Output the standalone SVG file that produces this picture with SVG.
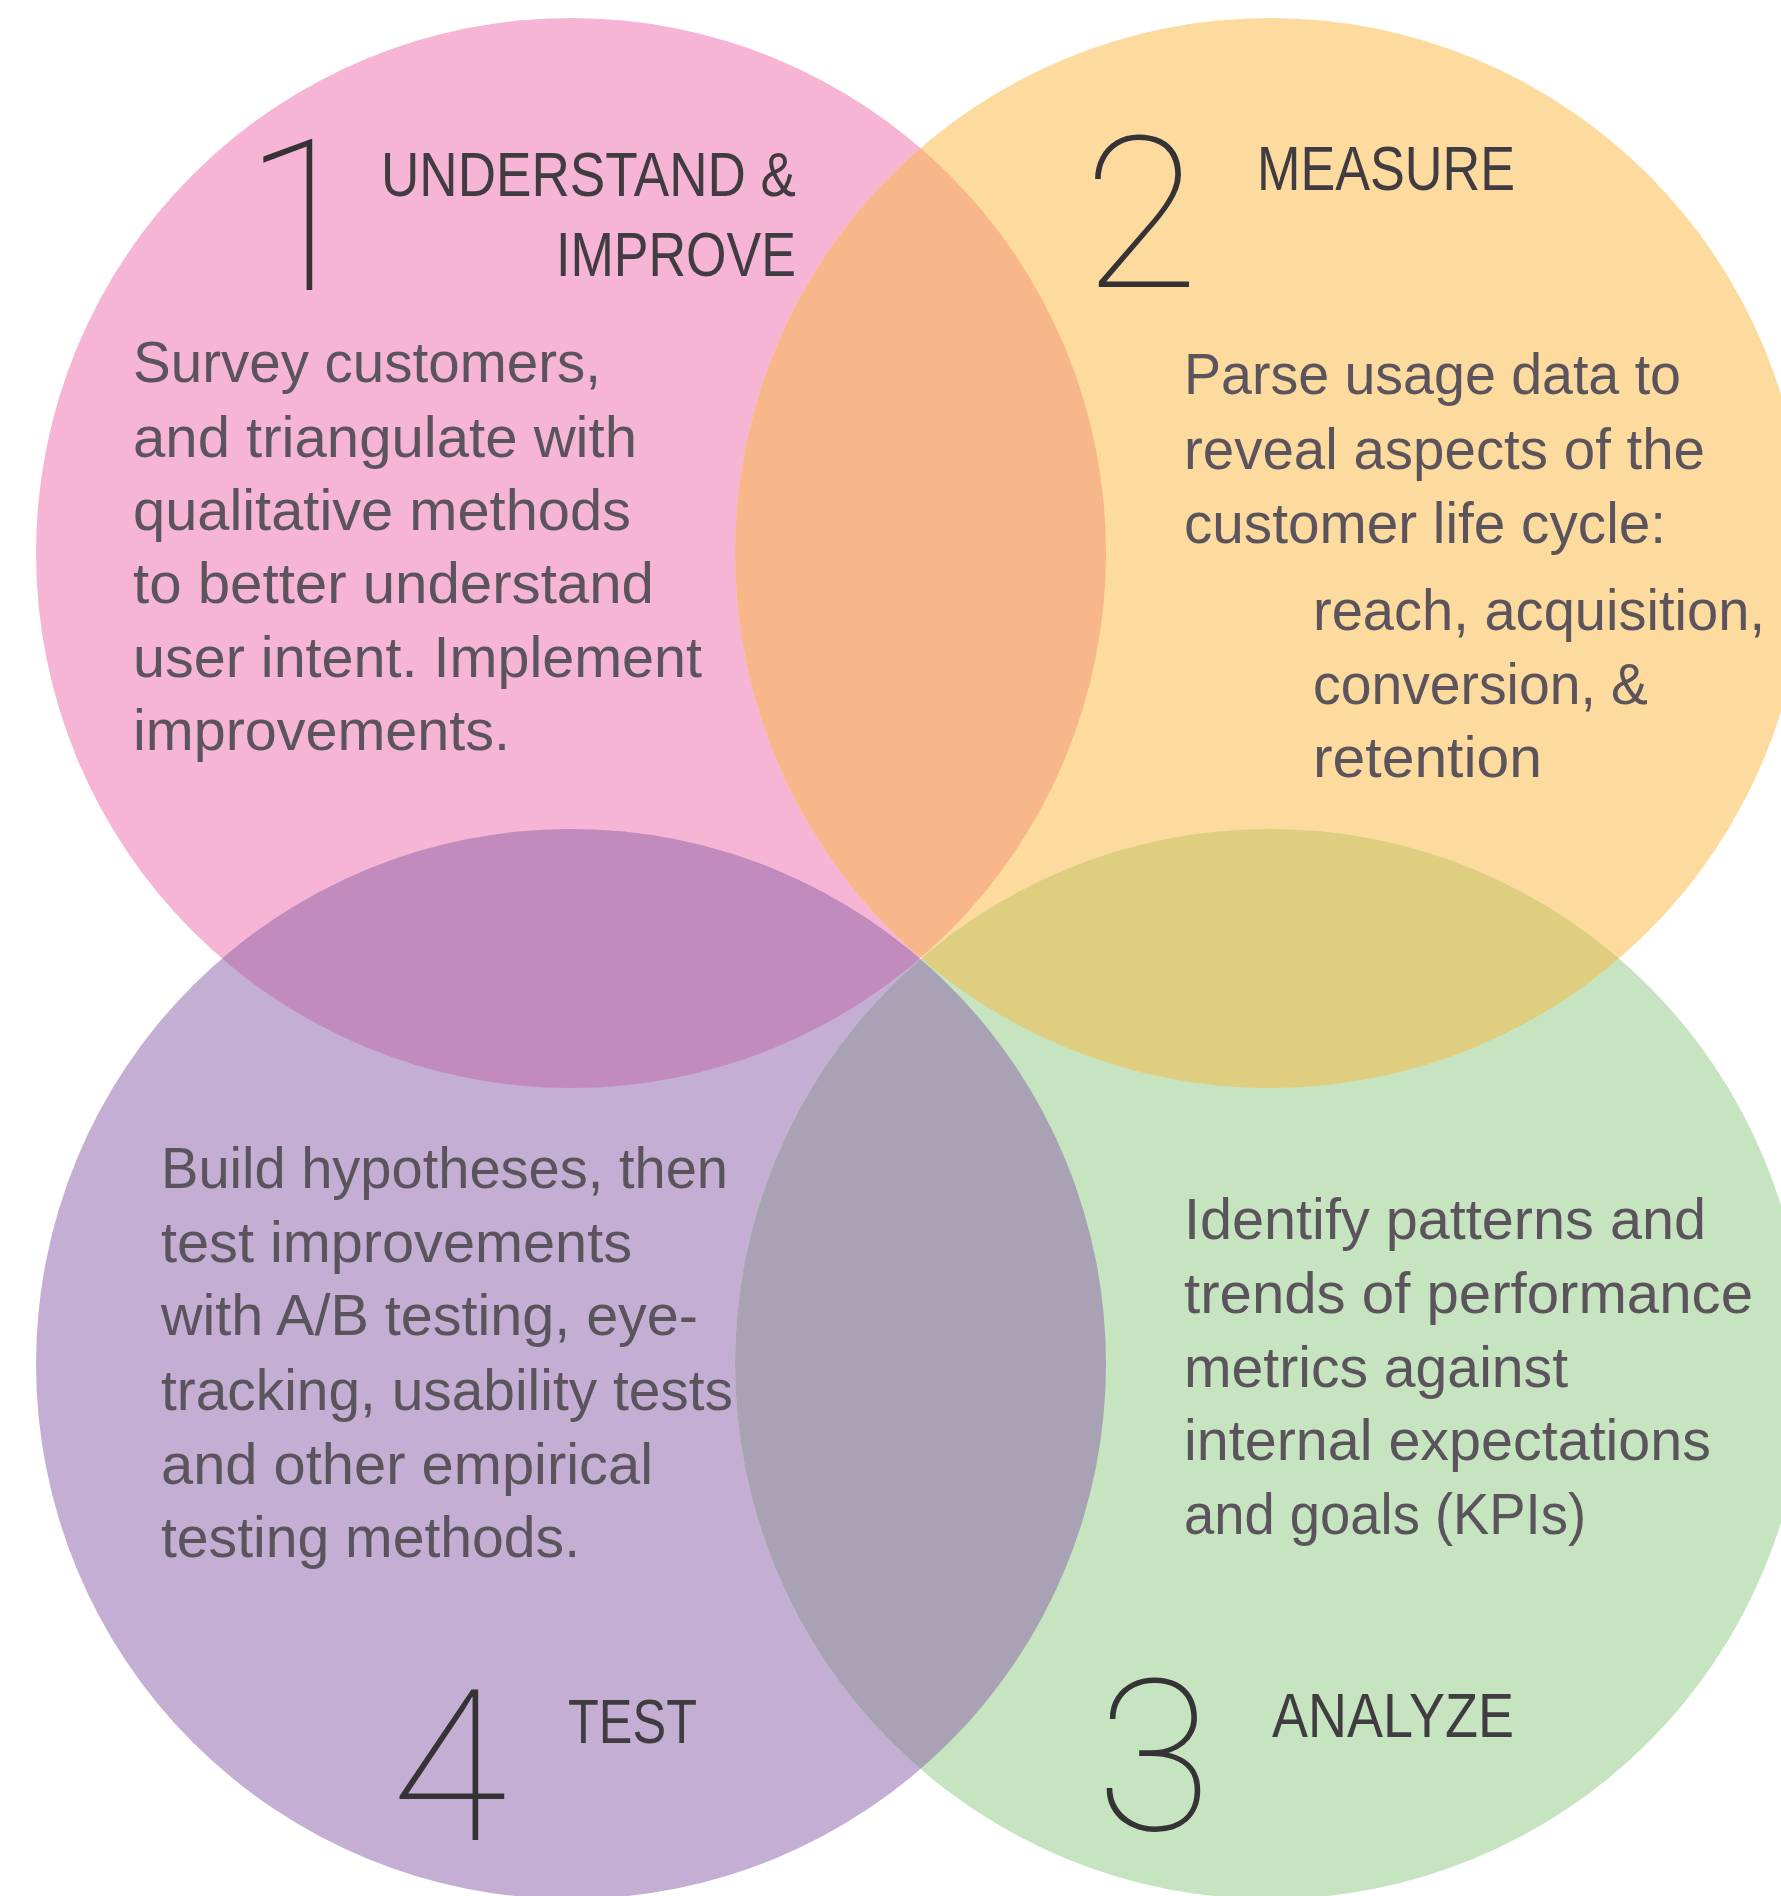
<svg xmlns="http://www.w3.org/2000/svg" width="1781" height="1896" viewBox="0 0 1781 1896">
  <style>
    .body { font-family: "Liberation Sans", Arial, sans-serif; font-size: 57px; fill: #5b545c; }
    .head { font-family: "Liberation Sans", Arial, sans-serif; font-size: 63px; fill: #413c41; }
    .digit { font-family: Roboto, Inter, "Liberation Sans", sans-serif; font-weight: 100; font-size: 212px; fill: #353335; text-anchor: middle; }
  </style>
  <defs>
    <clipPath id="clip-pink"><circle cx="571" cy="553" r="535"/></clipPath>
    <clipPath id="clip-green"><circle cx="1270" cy="1364" r="535"/></clipPath>
  </defs>
  <rect width="1781" height="1896" fill="#ffffff"/>

  <!-- 1 understand & improve -->
  <g id="node-understand">
    <circle cx="571" cy="553" r="535" fill="#f6b5d5"/>
  </g>
  <!-- 2 measure -->
  <g id="node-measure">
    <circle cx="1270" cy="553" r="535" fill="#fdda9d"/>
  </g>
  <!-- 4 test -->
  <g id="node-test">
    <circle cx="571" cy="1364" r="535" fill="#c4aed3"/>
  </g>
  <!-- 3 analyze -->
  <g id="node-analyze">
    <circle cx="1270" cy="1364" r="535" fill="#c6e4c0"/>
  </g>

  <!-- lens-shaped overlaps between neighbouring discs -->
  <g id="overlaps">
    <circle cx="1270" cy="553" r="535" fill="#f8b78a" clip-path="url(#clip-pink)"/>
    <circle cx="571" cy="1364" r="535" fill="#c28bbd" clip-path="url(#clip-pink)"/>
    <circle cx="1270" cy="553" r="535" fill="#e0ce80" clip-path="url(#clip-green)"/>
    <circle cx="571" cy="1364" r="535" fill="#a8a2b4" clip-path="url(#clip-green)"/>
  </g>

  <g id="label-understand">
    <text class="digit" x="302" y="290">1</text>
    <text class="head" x="381" y="196" textLength="415" lengthAdjust="spacingAndGlyphs">UNDERSTAND &amp;</text>
    <text class="head" x="556" y="276" textLength="240" lengthAdjust="spacingAndGlyphs">IMPROVE</text>
    <text class="body" x="133" y="382" textLength="468" lengthAdjust="spacingAndGlyphs">Survey customers,</text>
    <text class="body" x="133" y="457" textLength="504" lengthAdjust="spacingAndGlyphs">and triangulate with</text>
    <text class="body" x="133" y="530" textLength="498" lengthAdjust="spacingAndGlyphs">qualitative methods</text>
    <text class="body" x="133" y="603" textLength="521" lengthAdjust="spacingAndGlyphs">to better understand</text>
    <text class="body" x="133" y="677" textLength="569" lengthAdjust="spacingAndGlyphs">user intent. Implement</text>
    <text class="body" x="133" y="750" textLength="377" lengthAdjust="spacingAndGlyphs">improvements.</text>
  </g>

  <g id="label-measure">
    <text class="digit" x="1141" y="287">2</text>
    <text class="head" x="1257" y="190" textLength="258" lengthAdjust="spacingAndGlyphs">MEASURE</text>
    <text class="body" x="1184" y="394" textLength="497" lengthAdjust="spacingAndGlyphs">Parse usage data to</text>
    <text class="body" x="1184" y="469" textLength="521" lengthAdjust="spacingAndGlyphs">reveal aspects of the</text>
    <text class="body" x="1184" y="543" textLength="482" lengthAdjust="spacingAndGlyphs">customer life cycle:</text>
    <text class="body" x="1313" y="630" textLength="452" lengthAdjust="spacingAndGlyphs">reach, acquisition,</text>
    <text class="body" x="1313" y="704" textLength="335" lengthAdjust="spacingAndGlyphs">conversion, &amp;</text>
    <text class="body" x="1313" y="777" textLength="229" lengthAdjust="spacingAndGlyphs">retention</text>
  </g>

  <g id="label-test">
    <text class="digit" x="449" y="1840">4</text>
    <text class="head" x="568" y="1743" textLength="129" lengthAdjust="spacingAndGlyphs">TEST</text>
    <text class="body" x="161" y="1188" textLength="567" lengthAdjust="spacingAndGlyphs">Build hypotheses, then</text>
    <text class="body" x="161" y="1262" textLength="471" lengthAdjust="spacingAndGlyphs">test improvements</text>
    <text class="body" x="161" y="1335" textLength="537" lengthAdjust="spacingAndGlyphs">with A/B testing, eye-</text>
    <text class="body" x="161" y="1410" textLength="572" lengthAdjust="spacingAndGlyphs">tracking, usability tests</text>
    <text class="body" x="161" y="1484" textLength="492" lengthAdjust="spacingAndGlyphs">and other empirical</text>
    <text class="body" x="161" y="1557" textLength="419" lengthAdjust="spacingAndGlyphs">testing methods.</text>
  </g>

  <g id="label-analyze">
    <text class="digit" x="1154" y="1830">3</text>
    <text class="head" x="1272" y="1737" textLength="242" lengthAdjust="spacingAndGlyphs">ANALYZE</text>
    <text class="body" x="1184" y="1239" textLength="522" lengthAdjust="spacingAndGlyphs">Identify patterns and</text>
    <text class="body" x="1184" y="1313" textLength="569" lengthAdjust="spacingAndGlyphs">trends of performance</text>
    <text class="body" x="1184" y="1387" textLength="384" lengthAdjust="spacingAndGlyphs">metrics against</text>
    <text class="body" x="1184" y="1460" textLength="527" lengthAdjust="spacingAndGlyphs">internal expectations</text>
    <text class="body" x="1184" y="1534" textLength="402" lengthAdjust="spacingAndGlyphs">and goals (KPIs)</text>
  </g>
</svg>
